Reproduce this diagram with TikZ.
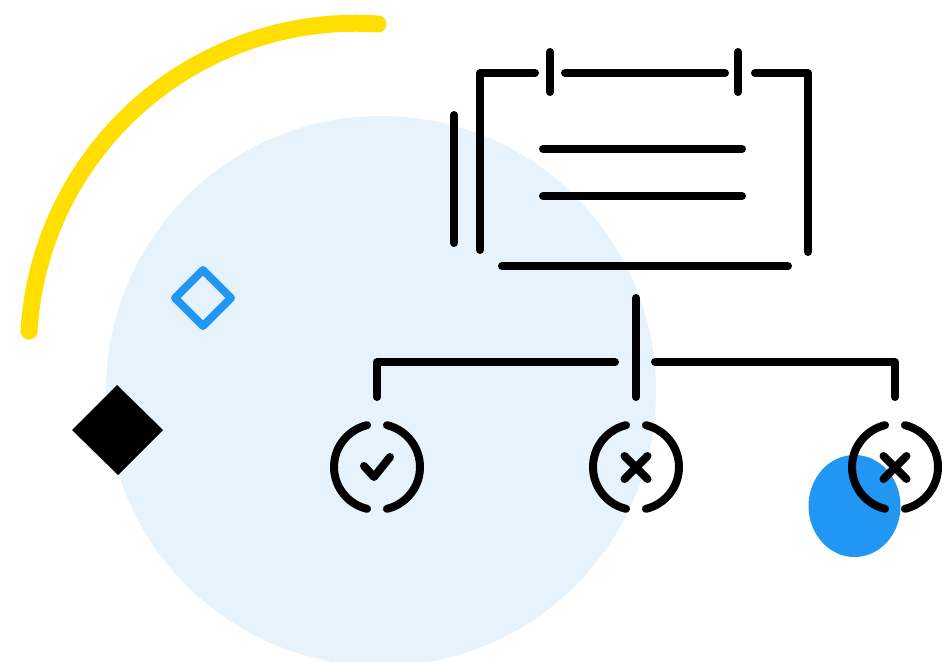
\documentclass[tikz,border=0pt]{standalone}
\definecolor{paleblue}{HTML}{E6F2FC}
\definecolor{accentblue}{HTML}{2196F3}
\definecolor{sunyellow}{HTML}{FFDE00}
\begin{document}
\begin{tikzpicture}[x=1pt,y=-1pt,
  ink/.style={draw=black,line width=8,line cap=round,line join=round},
  statusring/.style={ink},
]
\useasboundingbox (0,0) rectangle (944,661);
\clip (0,0) rectangle (944,661);

% background shapes
\fill[paleblue] (381,391) circle[radius=275];
\draw[sunyellow,line width=17,line cap=round] (378,24) arc[start angle=-86.1,end angle=-176.6,radius=327.3];
\draw[accentblue,line width=8,line join=round] (203,270) -- (231,298) -- (203,326) -- (175,298) -- cycle;
\fill[black] (117,385) -- (163,430) -- (118,475) -- (72,430) -- cycle;
\fill[accentblue] (854.5,506) ellipse[x radius=46,y radius=51];

% document with binder rings
\draw[ink] (535,73) -- (480,73) -- (480,250);
\draw[ink] (565,73) -- (725,73);
\draw[ink] (755,73) -- (808,73) -- (808,252);
\draw[ink] (550,52) -- (550,92);
\draw[ink] (738,52) -- (738,92);
\draw[ink] (454,115) -- (454,243);
\draw[ink] (543,149) -- (742,149);
\draw[ink] (543,196) -- (742,196);
\draw[ink] (502,266) -- (788,266);

% branching connectors
\coordinate (trunktop) at (636,298);
\coordinate (trunkend) at (636,397);
\coordinate (leftstub) at (615,362);
\coordinate (rightstub) at (655,362);
\coordinate (leftdrop) at (377,397);
\coordinate (rightdrop) at (895,397);
\draw[ink] (trunktop) -- (trunkend);
\draw[ink] (leftstub) -- (leftdrop |- leftstub) -- (leftdrop);
\draw[ink] (rightstub) -- (rightdrop |- rightstub) -- (rightdrop);

% status icons
\coordinate (okay) at (377,467);
\coordinate (failA) at (636,467);
\coordinate (failB) at (895,467);
\foreach \c in {okay,failA,failB}{
  \draw[statusring] (\c) ++(103.4:43) arc[start angle=103.4,end angle=256.6,radius=43];
  \draw[statusring] (\c) ++(-76.6:43) arc[start angle=-76.6,end angle=76.6,radius=43];
}
\draw[ink] (okay) ++(-13,-1) -- ++(10,11) -- ++(16,-20);
\foreach \c in {failA,failB}{
  \draw[ink] (\c) ++(-11.5,-11) -- ++(23,23);
  \draw[ink] (\c) ++(11.5,-11) -- ++(-23,23);
}
\end{tikzpicture}
\end{document}
